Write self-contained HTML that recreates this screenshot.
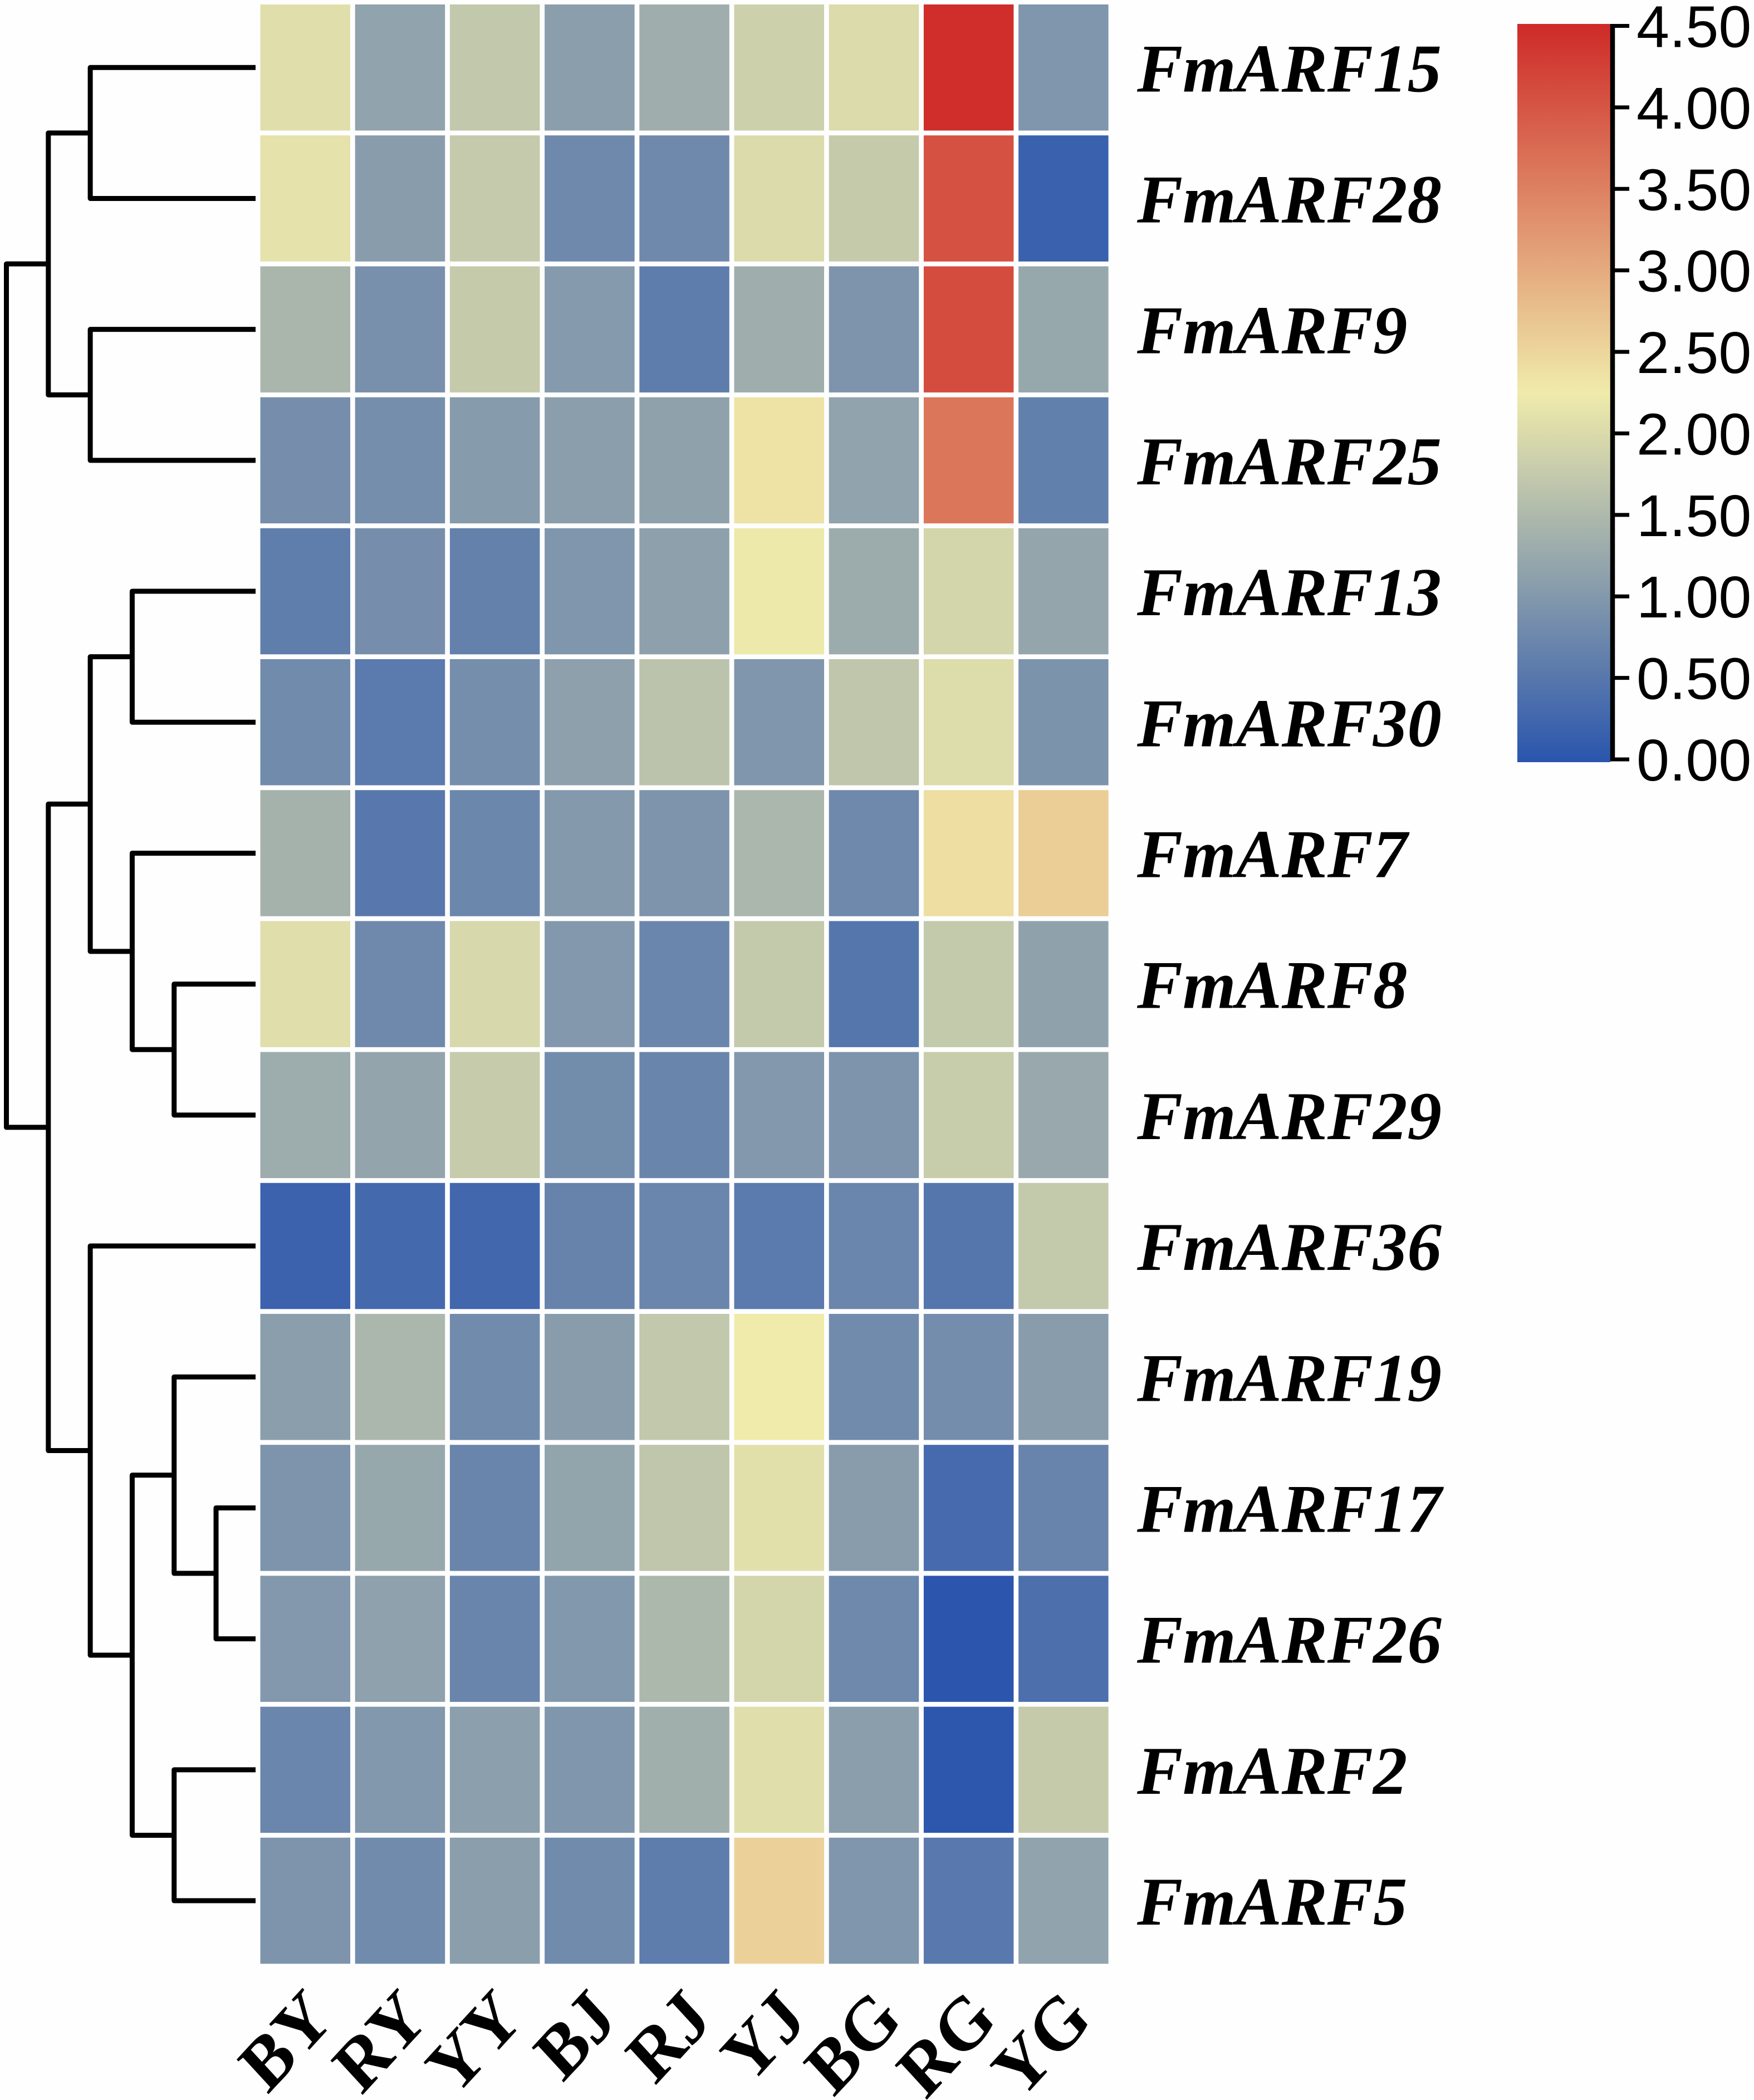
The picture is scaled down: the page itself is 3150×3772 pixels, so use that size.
<!DOCTYPE html>
<html lang="en">
<head>
<meta charset="utf-8">
<title>FmARF expression heatmap</title>
<style>
html,body{margin:0;padding:0;background:#fefefe;}
svg{display:block;}
</style>
</head>
<body>
<svg id="chart" xmlns="http://www.w3.org/2000/svg" width="3150" height="3772" viewBox="0 0 3150 3772">
<rect x="0" y="0" width="3150" height="3772" fill="#fefefe"/>
<defs>
<linearGradient id="cbGrad" x1="0" y1="1" x2="0" y2="0">
<stop offset="0" stop-color="#2a55ad"/>
<stop offset="0.5" stop-color="#f0ebab"/>
<stop offset="1" stop-color="#ce2a27"/>
</linearGradient>
</defs>
<g id="dendro"></g>
<g id="cells"></g>
<g id="rowLabels"></g>
<g id="colLabels"></g>
<g id="colorbar"></g>
</svg>
<script>
const columns = ["BY","RY","YY","BJ","RJ","YJ","BG","RG","YG"];
const genes = ["FmARF15","FmARF28","FmARF9","FmARF25","FmARF13","FmARF30","FmARF7","FmARF8","FmARF29","FmARF36","FmARF19","FmARF17","FmARF26","FmARF2","FmARF5"];
const row0 = [2.07,1.17,1.73,1.10,1.33,1.84,2.01,4.45,0.97];
const row1 = [2.12,1.07,1.75,0.78,0.78,2.01,1.76,4.05,0.18];
const row2 = [1.45,0.89,1.76,1.03,0.60,1.33,0.95,4.10,1.24];
const row3 = [0.86,0.85,1.05,1.10,1.15,2.36,1.17,3.61,0.64];
const row4 = [0.61,0.86,0.66,0.97,1.12,2.22,1.30,1.92,1.20];
const row5 = [0.81,0.56,0.85,1.12,1.65,0.97,1.69,2.03,0.93];
const row6 = [1.40,0.52,0.75,1.02,0.95,1.47,0.78,2.40,2.60];
const row7 = [2.07,0.78,1.97,1.01,0.74,1.74,0.49,1.74,1.15];
const row8 = [1.31,1.19,1.77,0.82,0.72,1.01,0.95,1.78,1.25];
const row9 = [0.20,0.30,0.27,0.69,0.74,0.56,0.74,0.49,1.74];
const row10 = [1.09,1.47,0.81,1.07,1.72,2.25,0.81,0.84,1.07];
const row11 = [0.94,1.24,0.72,1.18,1.69,2.08,1.07,0.32,0.70];
const row12 = [1.01,1.14,0.72,1.00,1.49,1.92,0.78,0.02,0.40];
const row13 = [0.74,1.00,1.11,0.98,1.34,2.07,1.10,0.03,1.76];
const row14 = [0.95,0.81,1.09,0.81,0.59,2.55,0.98,0.53,1.17];
const values = [row0,row1,row2,row3,row4,row5,row6,row7,row8,row9,row10,row11,row12,row13,row14];
const colorbarTicks = [0,0.5,1,1.5,2,2.5,3,3.5,4,4.5];
const colorbarTickLabels = ["0.00","0.50","1.00","1.50","2.00","2.50","3.00","3.50","4.00","4.50"];
// Each merge: [left child, right child, tree level]. Numbers are leaves (rows); "mN" refers to merge N.
const merges = [
  [0,1,2],[2,3,2],["m0","m1",1],
  [4,5,3],[7,8,4],[6,"m4",3],["m3","m5",2],
  [11,12,5],[10,"m7",4],[13,14,4],["m8","m9",3],[9,"m10",2],
  ["m6","m11",1],["m2","m12",0]
];

const NS = "http://www.w3.org/2000/svg";
function make(tag, attrs, parent){
  const el = document.createElementNS(NS, tag);
  for (const k in attrs) el.setAttribute(k, attrs[k]);
  parent.appendChild(el);
  return el;
}
// axis functions
const colLeft = c => 467.5 + 170.2 * c;
const rowTop = r => 8 + 235.2 * r;
const cellW = 161.5, cellH = 226.5;
const rowCenter = r => rowTop(r) + cellH / 2;
const colCenter = c => colLeft(c) + cellW / 2;
const levelX = d => 11.5 + 75.3 * d;
const leafEndX = 459;
const barY = v => 1364 - (1364 - 46.5) * (v / 4.5);

const stopLow = [42,85,173], stopMid = [240,235,171], stopHigh = [206,42,39];
const domainMax = 4.5;
function colorOf(v){
  const mid = domainMax / 2;
  const a = v <= mid ? stopLow : stopMid;
  const b = v <= mid ? stopMid : stopHigh;
  const t = v <= mid ? v / mid : (v - mid) / mid;
  const ch = a.map((x, i) => Math.round(x + (b[i] - x) * t));
  return "rgb(" + ch.join(",") + ")";
}

// heatmap cells
const cellsG = document.getElementById("cells");
values.forEach((rowVals, r) => {
  rowVals.forEach((v, c) => {
    const rect = make("rect", {x: colLeft(c), y: rowTop(r), width: cellW, height: cellH, fill: colorOf(v)}, cellsG);
    
    
  });
});

// row labels
const rowG = document.getElementById("rowLabels");
genes.forEach((g, r) => {
  const t = make("text", {x: 2042, y: rowCenter(r) + 43, "font-family": '"Liberation Serif", serif', "font-weight": "bold", "font-style": "italic", "font-size": 123, fill: "#000"}, rowG);
  t.textContent = g;
  
  
});

// column labels
const colG = document.getElementById("colLabels");
columns.forEach((name, c) => {
  const ax = colCenter(c) + 54, ay = 3631;
  const t = make("text", {transform: "translate(" + ax + " " + ay + ") scale(1.066 1.16) rotate(-45)", "text-anchor": "end", "font-family": '"Liberation Serif", serif', "font-weight": "bold", "font-size": 116, fill: "#000"}, colG);
  t.textContent = name;
  
  
});

// dendrogram
const dendroG = document.getElementById("dendro");
const nodes = [];
function resolve(ref){
  if (typeof ref === "number") return {x: leafEndX, y: rowCenter(ref)};
  return nodes[parseInt(ref.slice(1), 10)];
}
merges.forEach((m, i) => {
  const a = resolve(m[0]), b = resolve(m[1]);
  const x = levelX(m[2]);
  const p = make("path", {d: "M" + a.x + " " + a.y + "H" + x + "V" + b.y + "H" + b.x, fill: "none", stroke: "#000", "stroke-width": 9, "stroke-linejoin": "round"}, dendroG);
  
  
  nodes.push({x: x, y: (a.y + b.y) / 2});
});

// colorbar
const cbG = document.getElementById("colorbar");
const bar = make("rect", {x: 2725, y: 43, width: 167, height: 1326, fill: "url(#cbGrad)"}, cbG);


const axisLine = make("line", {x1: 2896, x2: 2896, y1: barY(4.5) - 3.5, y2: barY(0) + 3.5, stroke: "#000", "stroke-width": 8.5}, cbG);


colorbarTicks.forEach((v, i) => {
  const y = barY(v);
  const tick = make("line", {x1: 2896, x2: 2926, y1: y, y2: y, stroke: "#000", "stroke-width": 7}, cbG);
  
  
  const t = make("text", {x: 2939, y: y + 38, "font-family": '"Liberation Sans", sans-serif', "font-size": 106, fill: "#000"}, cbG);
  t.textContent = colorbarTickLabels[i];
  
  
});
</script>
</body>
</html>
